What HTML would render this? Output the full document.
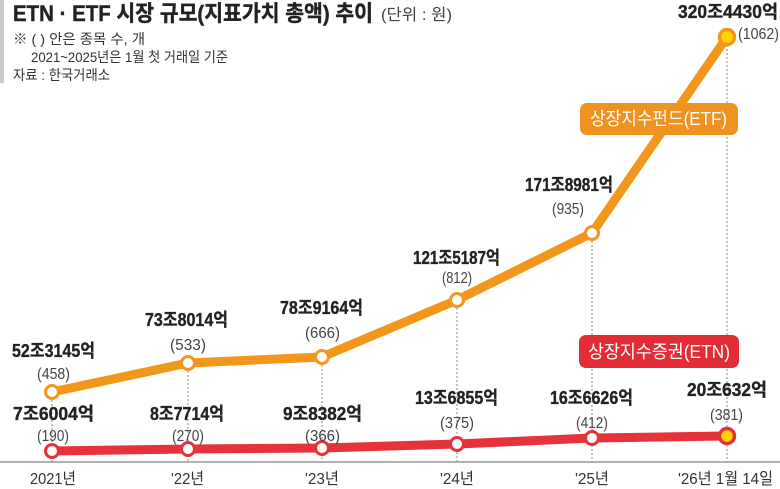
<!DOCTYPE html>
<html><head><meta charset="utf-8"><style>
html,body{margin:0;padding:0;background:#fff;}
svg{display:block;}
text{font-family:"Liberation Sans","Noto Sans CJK KR",sans-serif;}
.b{font-weight:bold;fill:#222;font-size:18px;stroke:#222;stroke-width:0.35;}
.p{fill:#444;font-size:16px;}
.ax{fill:#333;font-size:16px;}
</style></head><body>
<svg width="780" height="489" viewBox="0 0 780 489" xmlns="http://www.w3.org/2000/svg">
<rect x="0" y="0" width="780" height="489" fill="#fff"/>
<rect x="0" y="0" width="4" height="83" fill="#c9c9c9"/>
<text x="13" y="21" font-size="22" font-weight="bold" fill="#222" stroke="#222" stroke-width="0.4" textLength="360" lengthAdjust="spacingAndGlyphs">ETN · ETF 시장 규모(지표가치 총액) 추이</text>
<text x="381" y="20" font-size="16" fill="#444" textLength="71" lengthAdjust="spacingAndGlyphs">(단위 : 원)</text>
<text x="13" y="44" font-size="14" fill="#333" textLength="132" lengthAdjust="spacingAndGlyphs">※ (    ) 안은 종목 수, 개</text>
<text x="31" y="62" font-size="14" fill="#333" textLength="197" lengthAdjust="spacingAndGlyphs">2021~2025년은 1월 첫 거래일 기준</text>
<text x="13" y="80" font-size="14" fill="#333" textLength="97" lengthAdjust="spacingAndGlyphs">자료 : 한국거래소</text>

<line x1="0" y1="462" x2="780" y2="462" stroke="#999" stroke-width="1.5"/>
<g stroke="#8a8a8a" stroke-width="1" stroke-dasharray="2 2">
<line x1="52" y1="392" x2="52" y2="462"/>
<line x1="188" y1="363" x2="188" y2="462"/>
<line x1="322" y1="357" x2="322" y2="462"/>
<line x1="457" y1="300" x2="457" y2="462"/>
<line x1="592" y1="233" x2="592" y2="462"/>
<line x1="727" y1="37" x2="727" y2="462"/>
</g>

<polyline points="52,392 188,363 322,357 457,300 592,233 727,37" fill="none" stroke="#f3961c" stroke-width="9" stroke-linejoin="round" stroke-linecap="round"/>
<polyline points="52,451 188,449 322,448 457,444 592,438 727,436" fill="none" stroke="#e6323a" stroke-width="9" stroke-linejoin="round" stroke-linecap="round"/>

<g fill="#fff" stroke="#f3961c" stroke-width="3">
<circle cx="52" cy="392" r="6.5"/>
<circle cx="188" cy="363" r="6.5"/>
<circle cx="322" cy="357" r="6.5"/>
<circle cx="457" cy="300" r="6.5"/>
<circle cx="592" cy="233" r="6.5"/>
</g>
<circle cx="727" cy="37" r="7.5" fill="#ffd400" stroke="#f3961c" stroke-width="3.5"/>
<g fill="#fff" stroke="#e6323a" stroke-width="3">
<circle cx="52" cy="451" r="6.5"/>
<circle cx="188" cy="449" r="6.5"/>
<circle cx="322" cy="448" r="6.5"/>
<circle cx="457" cy="444" r="6.5"/>
<circle cx="592" cy="438" r="6.5"/>
</g>
<circle cx="727" cy="436" r="7.5" fill="#ffd400" stroke="#e6323a" stroke-width="3.5"/>

<rect x="580" y="103" width="158" height="32" rx="7" fill="#ef9220"/>
<text x="590" y="125" font-size="18" fill="#fff" textLength="137" lengthAdjust="spacingAndGlyphs">상장지수펀드(ETF)</text>
<rect x="579" y="335" width="160" height="33" rx="7" fill="#e32d36"/>
<text x="588" y="358" font-size="18" fill="#fff" textLength="142" lengthAdjust="spacingAndGlyphs">상장지수증권(ETN)</text>

<text class="b" x="12" y="357" textLength="83" lengthAdjust="spacingAndGlyphs">52조3145억</text>
<text class="p" x="37" y="379" textLength="33" lengthAdjust="spacingAndGlyphs">(458)</text>
<text class="b" x="145" y="326" textLength="83" lengthAdjust="spacingAndGlyphs">73조8014억</text>
<text class="p" x="170" y="350" textLength="36" lengthAdjust="spacingAndGlyphs">(533)</text>
<text class="b" x="280" y="314" textLength="83" lengthAdjust="spacingAndGlyphs">78조9164억</text>
<text class="p" x="305" y="338" textLength="35" lengthAdjust="spacingAndGlyphs">(666)</text>
<text class="b" x="413" y="264" textLength="87" lengthAdjust="spacingAndGlyphs">121조5187억</text>
<text class="p" x="442" y="283" textLength="30" lengthAdjust="spacingAndGlyphs">(812)</text>
<text class="b" x="525" y="191" textLength="88" lengthAdjust="spacingAndGlyphs">171조8981억</text>
<text class="p" x="552" y="214" textLength="32" lengthAdjust="spacingAndGlyphs">(935)</text>
<text class="b" x="678" y="18" textLength="100" lengthAdjust="spacingAndGlyphs">320조4430억</text>
<text class="p" x="738" y="39" textLength="41" lengthAdjust="spacingAndGlyphs">(1062)</text>

<text class="b" x="13" y="420" textLength="81" lengthAdjust="spacingAndGlyphs">7조6004억</text>
<text class="p" x="37" y="441" textLength="32" lengthAdjust="spacingAndGlyphs">(190)</text>
<text class="b" x="150" y="420" textLength="74" lengthAdjust="spacingAndGlyphs">8조7714억</text>
<text class="p" x="172" y="441" textLength="32" lengthAdjust="spacingAndGlyphs">(270)</text>
<text class="b" x="283" y="420" textLength="79" lengthAdjust="spacingAndGlyphs">9조8382억</text>
<text class="p" x="305" y="441" textLength="35" lengthAdjust="spacingAndGlyphs">(366)</text>
<text class="b" x="415" y="404" textLength="83" lengthAdjust="spacingAndGlyphs">13조6855억</text>
<text class="p" x="440" y="428" textLength="34" lengthAdjust="spacingAndGlyphs">(375)</text>
<text class="b" x="550" y="404" textLength="83" lengthAdjust="spacingAndGlyphs">16조6626억</text>
<text class="p" x="576" y="428" textLength="32" lengthAdjust="spacingAndGlyphs">(412)</text>
<text class="b" x="687" y="396" textLength="80" lengthAdjust="spacingAndGlyphs">20조632억</text>
<text class="p" x="710" y="420" textLength="33" lengthAdjust="spacingAndGlyphs">(381)</text>

<text class="ax" x="30" y="484" textLength="46" lengthAdjust="spacingAndGlyphs">2021년</text>
<text class="ax" x="171" y="484" textLength="33" lengthAdjust="spacingAndGlyphs">'22년</text>
<text class="ax" x="305" y="484" textLength="34" lengthAdjust="spacingAndGlyphs">'23년</text>
<text class="ax" x="440" y="484" textLength="34" lengthAdjust="spacingAndGlyphs">'24년</text>
<text class="ax" x="575" y="484" textLength="34" lengthAdjust="spacingAndGlyphs">'25년</text>
<text class="ax" x="678" y="484" textLength="95" lengthAdjust="spacingAndGlyphs">'26년 1월 14일</text>
</svg>
</body></html>
